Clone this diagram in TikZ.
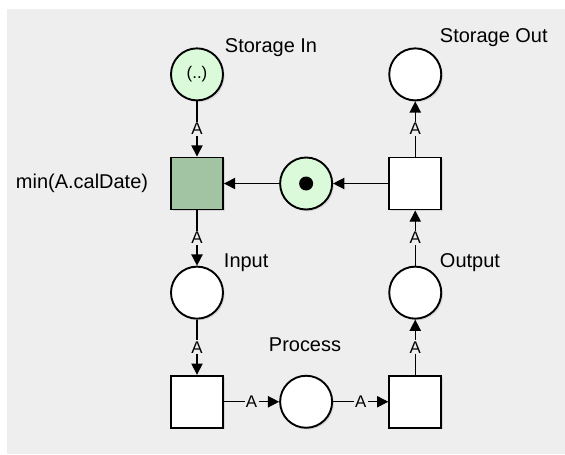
\documentclass[tikz,border=0pt]{standalone}
\usepackage{fontspec}
\setmainfont{Liberation Sans}
\usetikzlibrary{arrows.meta,positioning,shadows}
\definecolor{bggray}{HTML}{EEEEEE}
\definecolor{placegreen}{HTML}{DBFADA}
\definecolor{transgreen}{HTML}{A3C4A3}

\begin{document}
\begin{tikzpicture}[
    x=0.025cm, y=-0.025cm,
    place/.style={draw, circle, line width=1.35pt, minimum size=1.3cm,
                  inner sep=0pt, fill=#1, font=\fontsize{12}{14}\selectfont,
                  drop shadow={opacity=0.22, shadow xshift=1.2pt, shadow yshift=-1.2pt}},
    place/.default=white,
    trans/.style={draw, rectangle, line width=1.35pt, minimum size=1.3cm,
                  inner sep=0pt, fill=#1,
                  drop shadow={opacity=0.22, shadow xshift=1.2pt, shadow yshift=-1.2pt}},
    trans/.default=white,
    arc/.style={-{Triangle[length=8pt,width=8pt]}, line width=1pt},
    inscr/.style={fill=bggray, inner sep=1pt, font=\fontsize{12}{14}\selectfont},
    lbl/.style={font=\fontsize{14.2}{16}\selectfont},
    node distance=1.38cm
  ]
    % backdrop
    \fill[white] (0,0) rectangle (565,454);
    \fill[bggray] (7,9) rectangle (565,454);
    \useasboundingbox (0,0) rectangle (565,454);

    % net
    \node[trans=transgreen] (mint) at (197,183.5) {};
    \node[place=placegreen, above=of mint] (sin) {(..)};
    \node[place=placegreen, right=of mint] (tok) {};
    \node[trans, right=of tok] (trt) {};
    \node[place, above=of trt] (sout) {};
    \node[place, below=of mint] (inp) {};
    \node[trans, below=of inp] (tbl) {};
    \node[place, right=of tbl] (proc) {};
    \node[trans, right=of proc] (tbr) {};
    \node[place, above=of tbr] (outp) {};
    \node[circle, fill=black, minimum size=0.35cm, inner sep=0pt] (dot) at (tok) {};

    \draw[arc] (sin)  -- node[inscr]{A} (mint);
    \draw[arc] (mint) -- node[inscr]{A} (inp);
    \draw[arc] (inp)  -- node[inscr]{A} (tbl);
    \draw[arc] (tbl)  -- node[inscr]{A} (proc);
    \draw[arc] (proc) -- node[inscr]{A} (tbr);
    \draw[arc] (tbr)  -- node[inscr]{A} (outp);
    \draw[arc] (outp) -- node[inscr]{A} (trt);
    \draw[arc] (trt)  -- node[inscr]{A} (sout);
    \draw[arc] (trt)  -- (tok);
    \draw[arc] (tok)  -- (mint);

    % labels
    \node[lbl, anchor=west] (sinlbl)  at (220,48)  {Storage In};
    \node[lbl, anchor=west] (soutlbl) at (435,38)  {Storage Out};
    \node[lbl, anchor=east] (minlbl)  at (153,183.5) {min(A.calDate)};
    \node[lbl, anchor=west] (inplbl)  at (219,263) {Input};
    \node[lbl, anchor=west] (outlbl)  at (435,263) {Output};
    \node[lbl] (proclbl) at (305,345) {Process};
  \end{tikzpicture}
\end{document}
